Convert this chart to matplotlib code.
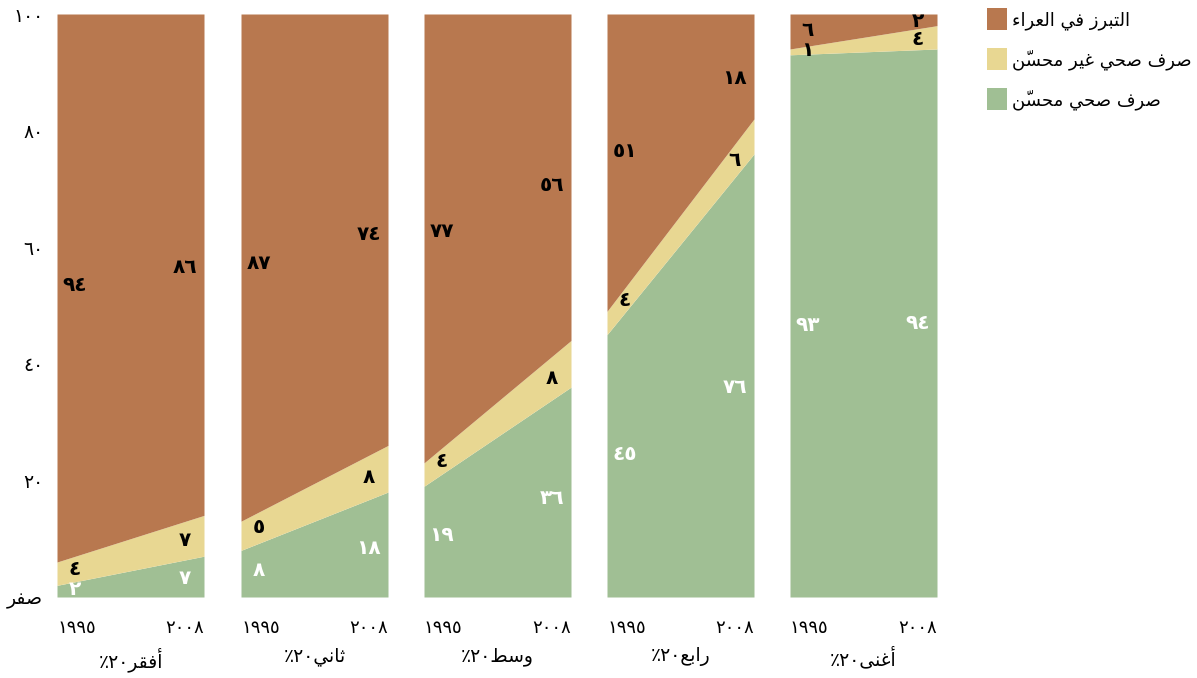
import re
import matplotlib
matplotlib.use("Agg")
import matplotlib.pyplot as plt
from matplotlib.patches import Patch

# --- data (percent of population) ---
years = [1995, 2008]
groups = ["أفقر٢٠٪", "ثاني٢٠٪", "وسط٢٠٪", "رابع٢٠٪", "أغنى٢٠٪"]
improved = [[2, 7], [8, 18], [19, 36], [45, 76], [93, 94]]
unimproved = [[4, 7], [5, 8], [4, 8], [4, 6], [1, 4]]
open_defecation = [[94, 86], [87, 74], [77, 56], [51, 18], [6, 2]]
series_names = ["صرف صحي محسّن", "صرف صحي غير محسّن", "التبرز في العراء"]
y_ticks = [0, 20, 40, 60, 80, 100]
zero_label = "صفر"

colors = ["#A0BF94", "#E8D792", "#B8784F"]
text_colors = ["white", "black", "black"]

# --- tiny arabic shaper (matplotlib has no shaping / bidi) ---
FORMS = {
    "ا": ("\uFE8D", "\uFE8E", None, None),
    "أ": ("\uFE83", "\uFE84", None, None),
    "ب": ("\uFE8F", "\uFE90", "\uFE91", "\uFE92"),
    "ت": ("\uFE95", "\uFE96", "\uFE97", "\uFE98"),
    "ث": ("\uFE99", "\uFE9A", "\uFE9B", "\uFE9C"),
    "ح": ("\uFEA1", "\uFEA2", "\uFEA3", "\uFEA4"),
    "ر": ("\uFEAD", "\uFEAE", None, None),
    "ز": ("\uFEAF", "\uFEB0", None, None),
    "س": ("\uFEB1", "\uFEB2", "\uFEB3", "\uFEB4"),
    "ص": ("\uFEB9", "\uFEBA", "\uFEBB", "\uFEBC"),
    "ط": ("\uFEC1", "\uFEC2", "\uFEC3", "\uFEC4"),
    "ع": ("\uFEC9", "\uFECA", "\uFECB", "\uFECC"),
    "غ": ("\uFECD", "\uFECE", "\uFECF", "\uFED0"),
    "ف": ("\uFED1", "\uFED2", "\uFED3", "\uFED4"),
    "ق": ("\uFED5", "\uFED6", "\uFED7", "\uFED8"),
    "ل": ("\uFEDD", "\uFEDE", "\uFEDF", "\uFEE0"),
    "م": ("\uFEE1", "\uFEE2", "\uFEE3", "\uFEE4"),
    "ن": ("\uFEE5", "\uFEE6", "\uFEE7", "\uFEE8"),
    "و": ("\uFEED", "\uFEEE", None, None),
    "ى": ("\uFEEF", "\uFEF0", None, None),
    "ي": ("\uFEF1", "\uFEF2", "\uFEF3", "\uFEF4"),
    "ء": ("\uFE80", "\uFE80", None, None),
}
MARKS = "\u064B\u064C\u064D\u064E\u064F\u0650\u0651\u0652"


def shape(text):
    chars = list(text)
    out = []
    for i, c in enumerate(chars):
        if c not in FORMS:
            out.append(c)
            continue
        j = i - 1
        while j >= 0 and chars[j] in MARKS:
            j -= 1
        k = i + 1
        while k < len(chars) and chars[k] in MARKS:
            k += 1
        prev = chars[j] if j >= 0 else None
        nxt = chars[k] if k < len(chars) else None
        join_prev = prev in FORMS and FORMS[prev][2] is not None
        join_next = nxt in FORMS and FORMS[c][2] is not None
        iso, fin, ini, med = FORMS[c]
        if join_prev and join_next:
            out.append(med)
        elif join_prev:
            out.append(fin)
        elif join_next:
            out.append(ini)
        else:
            out.append(iso)
    return "".join(out)


def ar(text):
    # digit runs keep their order, everything else is reversed (marks end up
    # before their base, which is where the zero-width glyph lands)
    tokens = re.findall("[\u0660-\u0669]+|.", shape(text))
    return "".join(reversed(tokens))


def ar_num(n):
    return str(n).translate(str.maketrans("0123456789", "٠١٢٣٤٥٦٧٨٩"))


plt.rcParams["font.family"] = ["DejaVu Sans"]

W, H = 1197, 678
fig = plt.figure(figsize=(W / 100, H / 100), dpi=100)

lefts = [57, 241, 424, 607, 790]
pw = 147
top, bottom = 14, 597

for p in range(5):
    ax = fig.add_axes([lefts[p] / W, 1 - bottom / H, pw / W, (bottom - top) / H])
    layers = [improved[p], unimproved[p], open_defecation[p]]
    base = [0, 0]
    for s in range(3):
        upper = [base[t] + layers[s][t] for t in range(2)]
        ax.fill_between(years, base, upper, color=colors[s], linewidth=0)
        # value labels, placed at the middle of the band near each end
        for t, frac in [(0, 0.12), (1, 0.87)]:
            x = years[0] + frac * (years[1] - years[0])
            lo = base[0] + frac * (base[1] - base[0])
            hi = upper[0] + frac * (upper[1] - upper[0])
            ax.text(x, (lo + hi) / 2, ar_num(layers[s][t]), ha="center", va="center",
                    fontsize=14.5, fontweight="bold", color=text_colors[s])
        base = upper

    ax.set_xlim(years[0], years[1])
    ax.set_ylim(0, 100)
    for sp in ax.spines.values():
        sp.set_visible(False)
    ax.set_xticks(years)
    ax.set_xticklabels([ar_num(y) for y in years], fontsize=13)
    xl = ax.get_xticklabels()
    xl[0].set_ha("left")
    xl[1].set_ha("right")
    ax.tick_params(axis="x", length=0, pad=16)
    ax.set_xlabel(ar(groups[p]), fontsize=13.5, labelpad=7)
    if p == 0:
        ax.set_yticks(y_ticks)
        ax.set_yticklabels([ar(zero_label)] + [ar_num(v) for v in y_ticks[1:]], fontsize=13.5)
        ax.tick_params(axis="y", length=0, pad=10)
    else:
        ax.set_yticks([])

handles = [Patch(facecolor=colors[s], edgecolor="none") for s in (2, 1, 0)]
labels = [ar(series_names[s]) for s in (2, 1, 0)]
fig.legend(handles, labels, loc="upper left", bbox_to_anchor=(980 / W, 1 - 1 / H),
           frameon=False, fontsize=13, handlelength=1.1, handleheight=1.5,
           handletextpad=0.25, labelspacing=1.0, borderaxespad=0)

fig.savefig("out.png", dpi=100)
